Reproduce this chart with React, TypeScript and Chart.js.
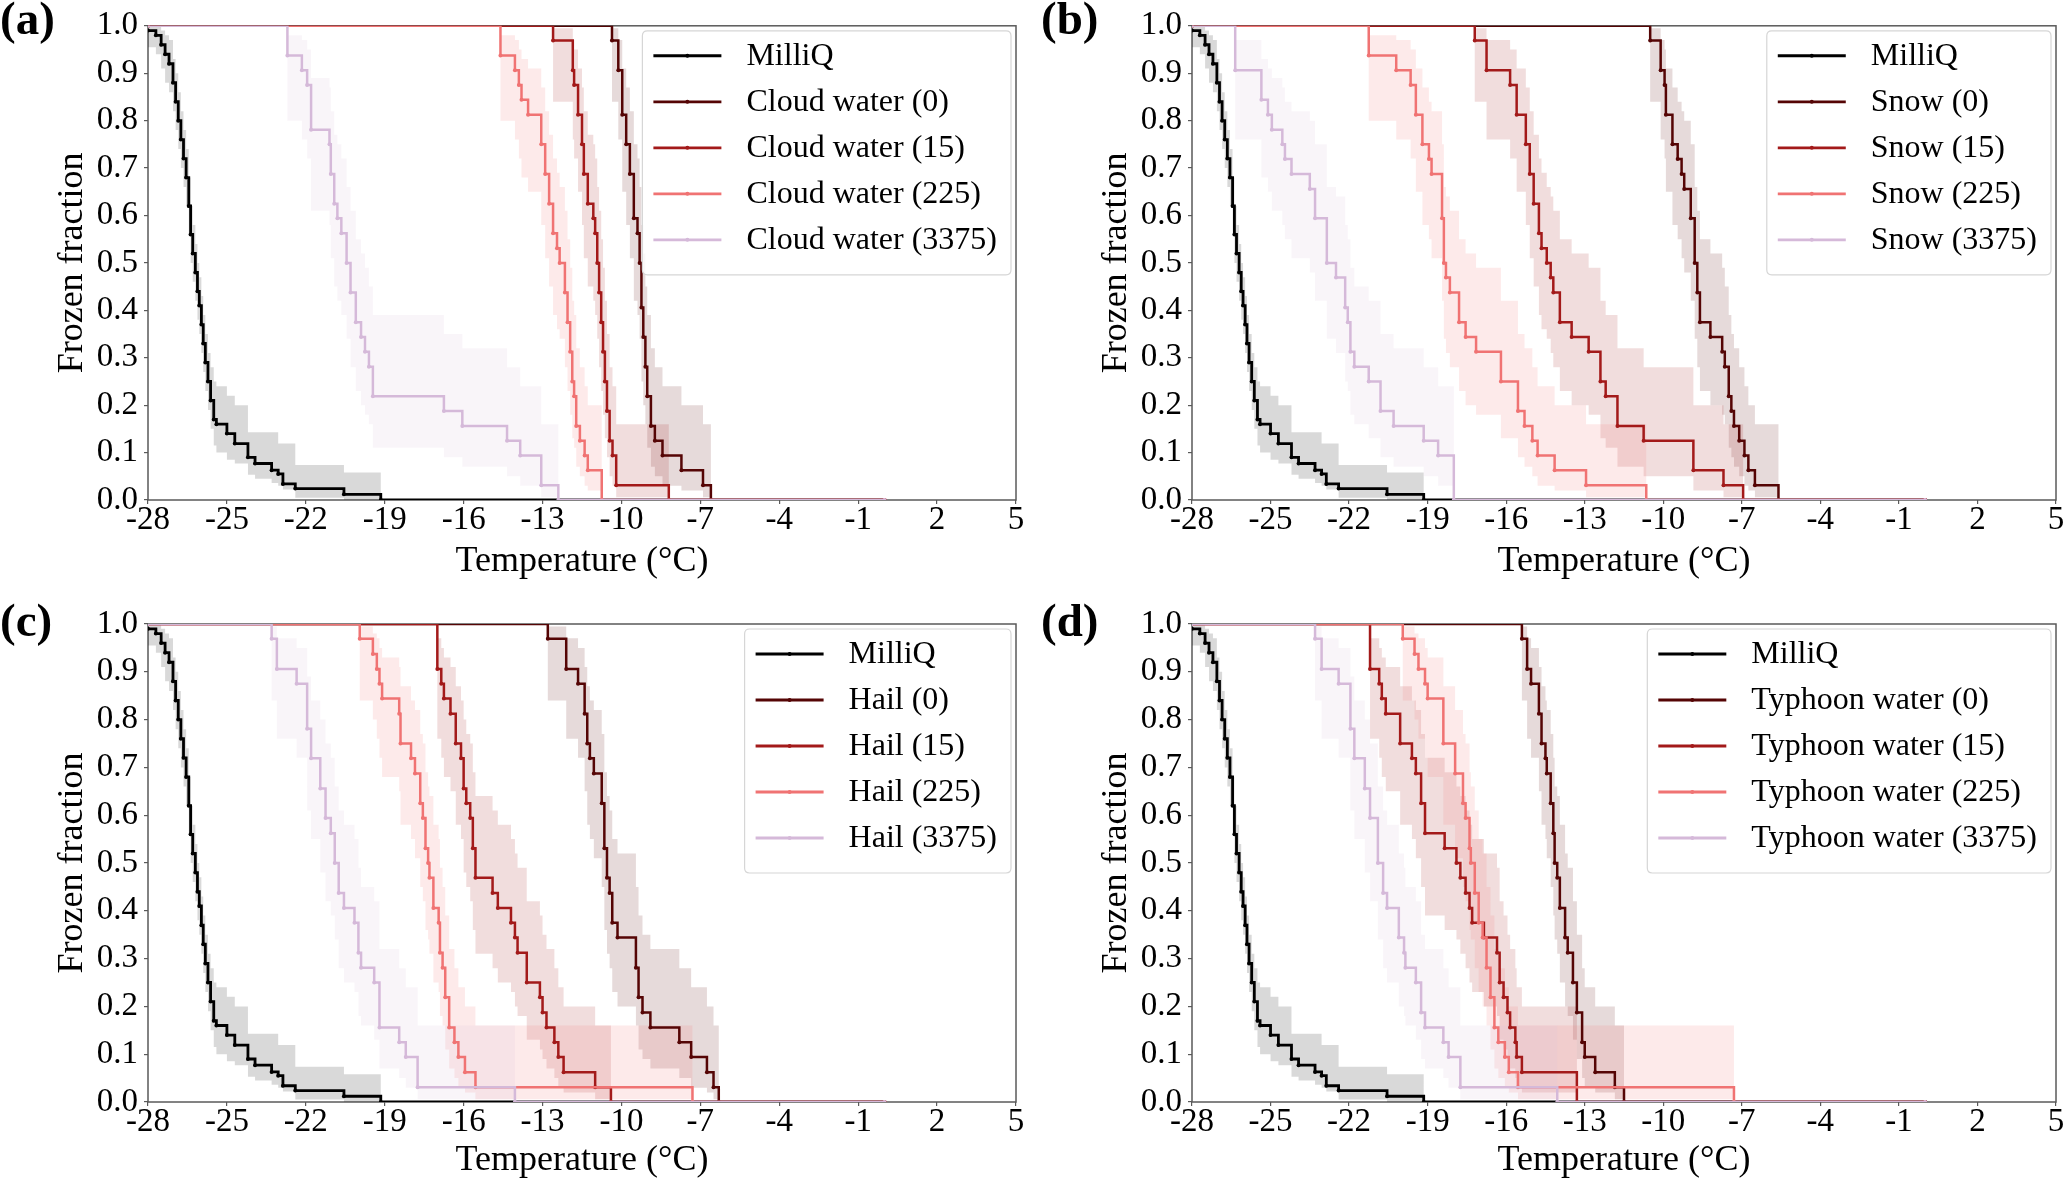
import React, { useEffect, useRef } from "react";
import { Chart, registerables } from "chart.js";

Chart.register(...registerables);

// Each row: [temperature (°C), frozen fraction, lower bound, upper bound]
type Row = [number, number, number, number];

const milliQ: Row[] = [
  [-28.0, 0.99, 0.955, 1.0],
  [-27.7, 0.98, 0.94, 1.0],
  [-27.5, 0.96, 0.91, 0.99],
  [-27.35, 0.94, 0.88, 0.98],
  [-27.2, 0.92, 0.86, 0.97],
  [-27.05, 0.88, 0.82, 0.93],
  [-26.95, 0.84, 0.78, 0.9],
  [-26.85, 0.8, 0.74, 0.86],
  [-26.75, 0.76, 0.7, 0.82],
  [-26.65, 0.72, 0.66, 0.78],
  [-26.55, 0.68, 0.62, 0.74],
  [-26.45, 0.62, 0.56, 0.68],
  [-26.38, 0.56, 0.5, 0.62],
  [-26.3, 0.52, 0.46, 0.58],
  [-26.2, 0.48, 0.42, 0.54],
  [-26.12, 0.44, 0.38, 0.5],
  [-26.05, 0.41, 0.35, 0.47],
  [-25.97, 0.37, 0.31, 0.43],
  [-25.9, 0.33, 0.27, 0.39],
  [-25.82, 0.29, 0.23, 0.35],
  [-25.72, 0.25, 0.19, 0.31],
  [-25.62, 0.21, 0.15, 0.28],
  [-25.5, 0.17, 0.115, 0.25],
  [-25.4, 0.16, 0.1, 0.24],
  [-25.0, 0.14, 0.085, 0.22],
  [-24.7, 0.119, 0.077, 0.2],
  [-24.2, 0.09, 0.053, 0.143],
  [-23.93, 0.077, 0.045, 0.143],
  [-23.3, 0.063, 0.036, 0.143],
  [-23.05, 0.055, 0.03, 0.119],
  [-22.87, 0.034, 0.022, 0.119],
  [-22.4, 0.024, 0.005, 0.074],
  [-20.55, 0.012, 0.0, 0.058],
  [-19.15, 0, 0, 0],
  [0, 0, 0, 0],
];

// ---- (a) Cloud water ----
const cloud0: Row[] = [
  [-28, 1, 1, 1],
  [-10.36, 0.969, 0.84, 0.995],
  [-10.12, 0.906, 0.76, 0.97],
  [-9.97, 0.8125, 0.65, 0.91],
  [-9.82, 0.75, 0.58, 0.87],
  [-9.68, 0.6875, 0.51, 0.82],
  [-9.53, 0.594, 0.42, 0.75],
  [-9.39, 0.5625, 0.39, 0.72],
  [-9.31, 0.5, 0.34, 0.66],
  [-9.24, 0.406, 0.25, 0.58],
  [-9.17, 0.344, 0.2, 0.52],
  [-9.09, 0.281, 0.16, 0.45],
  [-9.02, 0.219, 0.11, 0.39],
  [-8.88, 0.156, 0.07, 0.32],
  [-8.73, 0.125, 0.05, 0.28],
  [-8.44, 0.094, 0.03, 0.24],
  [-7.72, 0.0625, 0.02, 0.2],
  [-6.9, 0.031, 0.006, 0.16],
  [-6.6, 0, 0, 0],
  [0, 0, 0, 0],
];
const cloud15: Row[] = [
  [-28, 1, 1, 1],
  [-12.6, 0.969, 0.84, 0.995],
  [-11.85, 0.906, 0.76, 0.97],
  [-11.8, 0.875, 0.72, 0.95],
  [-11.65, 0.8125, 0.65, 0.91],
  [-11.5, 0.75, 0.58, 0.87],
  [-11.43, 0.6875, 0.51, 0.82],
  [-11.28, 0.625, 0.45, 0.77],
  [-11.07, 0.594, 0.42, 0.75],
  [-11.0, 0.5625, 0.39, 0.72],
  [-10.92, 0.5, 0.34, 0.66],
  [-10.85, 0.4375, 0.28, 0.61],
  [-10.77, 0.375, 0.23, 0.55],
  [-10.7, 0.3125, 0.18, 0.49],
  [-10.63, 0.25, 0.13, 0.42],
  [-10.55, 0.1875, 0.09, 0.35],
  [-10.45, 0.125, 0.05, 0.28],
  [-10.34, 0.094, 0.03, 0.24],
  [-10.2, 0.031, 0.006, 0.16],
  [-8.2, 0, 0, 0],
  [0, 0, 0, 0],
];
const cloud225: Row[] = [
  [-28, 1, 1, 1],
  [-14.6, 0.9375, 0.8, 0.98],
  [-14.05, 0.906, 0.76, 0.97],
  [-13.9, 0.875, 0.72, 0.95],
  [-13.8, 0.844, 0.68, 0.93],
  [-13.55, 0.8125, 0.65, 0.91],
  [-13.05, 0.75, 0.58, 0.87],
  [-12.9, 0.6875, 0.51, 0.82],
  [-12.75, 0.625, 0.45, 0.77],
  [-12.6, 0.5625, 0.39, 0.72],
  [-12.45, 0.531, 0.36, 0.69],
  [-12.35, 0.5, 0.34, 0.66],
  [-12.15, 0.4375, 0.28, 0.61],
  [-12.05, 0.375, 0.23, 0.55],
  [-11.95, 0.3125, 0.18, 0.49],
  [-11.87, 0.25, 0.13, 0.42],
  [-11.8, 0.219, 0.11, 0.39],
  [-11.72, 0.156, 0.07, 0.32],
  [-11.58, 0.125, 0.05, 0.28],
  [-11.4, 0.094, 0.03, 0.24],
  [-11.28, 0.0625, 0.02, 0.2],
  [-10.75, 0, 0, 0],
  [0, 0, 0, 0],
];
const cloud3375: Row[] = [
  [-28, 1, 1, 1],
  [-22.7, 0.9375, 0.8, 0.98],
  [-22.15, 0.906, 0.76, 0.97],
  [-21.95, 0.875, 0.72, 0.95],
  [-21.8, 0.781, 0.61, 0.89],
  [-21.1, 0.75, 0.58, 0.87],
  [-21.05, 0.6875, 0.51, 0.82],
  [-20.92, 0.625, 0.45, 0.77],
  [-20.8, 0.594, 0.42, 0.75],
  [-20.65, 0.5625, 0.39, 0.72],
  [-20.45, 0.5, 0.34, 0.66],
  [-20.3, 0.4375, 0.28, 0.61],
  [-20.1, 0.375, 0.23, 0.55],
  [-19.9, 0.344, 0.2, 0.52],
  [-19.75, 0.3125, 0.18, 0.49],
  [-19.6, 0.281, 0.16, 0.45],
  [-19.45, 0.219, 0.11, 0.39],
  [-16.75, 0.1875, 0.09, 0.35],
  [-16.05, 0.156, 0.07, 0.32],
  [-14.35, 0.125, 0.05, 0.28],
  [-13.85, 0.094, 0.03, 0.24],
  [-13.05, 0.031, 0.006, 0.16],
  [-12.4, 0, 0, 0],
  [0, 0, 0, 0],
];

// ---- (b) Snow ----
const snow0: Row[] = [
  [-28, 1, 1, 1],
  [-10.5, 0.969, 0.84, 0.995],
  [-10.1, 0.906, 0.76, 0.97],
  [-9.95, 0.875, 0.72, 0.95],
  [-9.9, 0.8125, 0.65, 0.91],
  [-9.65, 0.75, 0.58, 0.87],
  [-9.45, 0.719, 0.55, 0.84],
  [-9.3, 0.6875, 0.51, 0.82],
  [-9.2, 0.656, 0.48, 0.8],
  [-8.95, 0.594, 0.42, 0.75],
  [-8.8, 0.5, 0.34, 0.66],
  [-8.7, 0.4375, 0.28, 0.61],
  [-8.6, 0.375, 0.23, 0.55],
  [-8.2, 0.344, 0.2, 0.52],
  [-7.75, 0.3125, 0.18, 0.49],
  [-7.65, 0.281, 0.16, 0.45],
  [-7.5, 0.219, 0.11, 0.39],
  [-7.4, 0.1875, 0.09, 0.35],
  [-7.3, 0.156, 0.07, 0.32],
  [-7.1, 0.125, 0.05, 0.28],
  [-6.9, 0.094, 0.03, 0.24],
  [-6.75, 0.0625, 0.02, 0.2],
  [-6.5, 0.031, 0.006, 0.16],
  [-5.6, 0, 0, 0],
  [0, 0, 0, 0],
];
const snow15: Row[] = [
  [-28, 1, 1, 1],
  [-17.2, 0.969, 0.84, 0.995],
  [-16.75, 0.906, 0.76, 0.97],
  [-15.85, 0.875, 0.72, 0.95],
  [-15.6, 0.8125, 0.65, 0.91],
  [-15.25, 0.75, 0.58, 0.87],
  [-15.1, 0.6875, 0.51, 0.82],
  [-14.95, 0.625, 0.45, 0.77],
  [-14.75, 0.5625, 0.39, 0.72],
  [-14.65, 0.531, 0.36, 0.69],
  [-14.45, 0.5, 0.34, 0.66],
  [-14.3, 0.469, 0.31, 0.64],
  [-14.2, 0.4375, 0.28, 0.61],
  [-13.95, 0.375, 0.23, 0.55],
  [-13.5, 0.344, 0.2, 0.52],
  [-12.85, 0.3125, 0.18, 0.49],
  [-12.4, 0.25, 0.13, 0.42],
  [-12.2, 0.219, 0.11, 0.39],
  [-11.75, 0.156, 0.07, 0.32],
  [-10.75, 0.125, 0.05, 0.28],
  [-8.85, 0.0625, 0.02, 0.2],
  [-7.7, 0.031, 0.006, 0.16],
  [-6.95, 0, 0, 0],
  [0, 0, 0, 0],
];
const snow225: Row[] = [
  [-28, 1, 1, 1],
  [-21.25, 0.9375, 0.8, 0.98],
  [-20.2, 0.906, 0.76, 0.97],
  [-19.65, 0.875, 0.72, 0.95],
  [-19.45, 0.8125, 0.65, 0.91],
  [-19.2, 0.75, 0.58, 0.87],
  [-18.95, 0.719, 0.55, 0.84],
  [-18.85, 0.6875, 0.51, 0.82],
  [-18.45, 0.594, 0.42, 0.75],
  [-18.38, 0.5, 0.34, 0.66],
  [-18.3, 0.469, 0.31, 0.64],
  [-18.15, 0.4375, 0.28, 0.61],
  [-17.8, 0.375, 0.23, 0.55],
  [-17.55, 0.344, 0.2, 0.52],
  [-17.15, 0.3125, 0.18, 0.49],
  [-16.2, 0.25, 0.13, 0.42],
  [-15.55, 0.1875, 0.09, 0.35],
  [-15.3, 0.156, 0.07, 0.32],
  [-15.0, 0.125, 0.05, 0.28],
  [-14.8, 0.094, 0.03, 0.24],
  [-14.15, 0.0625, 0.02, 0.2],
  [-12.95, 0.031, 0.006, 0.16],
  [-10.65, 0, 0, 0],
  [0, 0, 0, 0],
];
const snow3375: Row[] = [
  [-28, 1, 1, 1],
  [-26.35, 0.906, 0.76, 0.97],
  [-25.35, 0.844, 0.68, 0.93],
  [-25.1, 0.8125, 0.65, 0.91],
  [-24.95, 0.781, 0.61, 0.89],
  [-24.55, 0.75, 0.58, 0.87],
  [-24.45, 0.719, 0.55, 0.84],
  [-24.2, 0.6875, 0.51, 0.82],
  [-23.5, 0.656, 0.48, 0.8],
  [-23.3, 0.594, 0.42, 0.75],
  [-22.85, 0.5, 0.34, 0.66],
  [-22.5, 0.469, 0.31, 0.64],
  [-22.15, 0.406, 0.25, 0.58],
  [-22.05, 0.375, 0.23, 0.55],
  [-21.95, 0.3125, 0.18, 0.49],
  [-21.8, 0.281, 0.16, 0.45],
  [-21.25, 0.25, 0.13, 0.42],
  [-20.8, 0.1875, 0.09, 0.35],
  [-20.3, 0.156, 0.07, 0.32],
  [-19.15, 0.125, 0.05, 0.28],
  [-18.6, 0.094, 0.03, 0.24],
  [-18.0, 0, 0, 0],
  [0, 0, 0, 0],
];

// ---- (c) Hail ----
const hail0: Row[] = [
  [-28, 1, 1, 1],
  [-12.8, 0.969, 0.84, 0.995],
  [-12.1, 0.906, 0.76, 0.97],
  [-11.65, 0.875, 0.72, 0.95],
  [-11.4, 0.8125, 0.65, 0.91],
  [-11.3, 0.75, 0.58, 0.87],
  [-11.2, 0.719, 0.55, 0.84],
  [-11.05, 0.6875, 0.51, 0.82],
  [-10.75, 0.625, 0.45, 0.77],
  [-10.65, 0.531, 0.36, 0.69],
  [-10.55, 0.469, 0.31, 0.64],
  [-10.45, 0.4375, 0.28, 0.61],
  [-10.35, 0.375, 0.23, 0.55],
  [-10.15, 0.344, 0.2, 0.52],
  [-9.45, 0.281, 0.16, 0.45],
  [-9.35, 0.219, 0.11, 0.39],
  [-9.2, 0.1875, 0.09, 0.35],
  [-8.9, 0.156, 0.07, 0.32],
  [-7.8, 0.125, 0.05, 0.28],
  [-7.35, 0.094, 0.03, 0.24],
  [-6.75, 0.0625, 0.02, 0.2],
  [-6.5, 0.031, 0.006, 0.16],
  [-6.3, 0, 0, 0],
  [0, 0, 0, 0],
];
const hail15: Row[] = [
  [-28, 1, 1, 1],
  [-17.0, 0.906, 0.76, 0.97],
  [-16.85, 0.875, 0.72, 0.95],
  [-16.75, 0.844, 0.68, 0.93],
  [-16.5, 0.8125, 0.65, 0.91],
  [-16.3, 0.75, 0.58, 0.87],
  [-16.1, 0.719, 0.55, 0.84],
  [-16.0, 0.656, 0.48, 0.8],
  [-15.9, 0.625, 0.45, 0.77],
  [-15.75, 0.594, 0.42, 0.75],
  [-15.65, 0.531, 0.36, 0.69],
  [-15.55, 0.469, 0.31, 0.64],
  [-14.9, 0.4375, 0.28, 0.61],
  [-14.7, 0.406, 0.25, 0.58],
  [-14.2, 0.375, 0.23, 0.55],
  [-14.05, 0.344, 0.2, 0.52],
  [-13.95, 0.3125, 0.18, 0.49],
  [-13.6, 0.25, 0.13, 0.42],
  [-13.1, 0.219, 0.11, 0.39],
  [-13.0, 0.1875, 0.09, 0.35],
  [-12.85, 0.156, 0.07, 0.32],
  [-12.55, 0.125, 0.05, 0.28],
  [-12.4, 0.094, 0.03, 0.24],
  [-12.2, 0.0625, 0.02, 0.2],
  [-11.0, 0.031, 0.006, 0.16],
  [-10.4, 0, 0, 0],
  [0, 0, 0, 0],
];
const hail225: Row[] = [
  [-28, 1, 1, 1],
  [-19.95, 0.969, 0.84, 0.995],
  [-19.45, 0.9375, 0.8, 0.98],
  [-19.3, 0.906, 0.76, 0.97],
  [-19.2, 0.875, 0.72, 0.95],
  [-19.1, 0.844, 0.68, 0.93],
  [-18.45, 0.8125, 0.65, 0.91],
  [-18.4, 0.75, 0.58, 0.87],
  [-18.0, 0.719, 0.55, 0.84],
  [-17.85, 0.6875, 0.51, 0.82],
  [-17.65, 0.625, 0.45, 0.77],
  [-17.55, 0.594, 0.42, 0.75],
  [-17.45, 0.531, 0.36, 0.69],
  [-17.35, 0.5, 0.34, 0.66],
  [-17.3, 0.469, 0.31, 0.64],
  [-17.15, 0.406, 0.25, 0.58],
  [-16.95, 0.375, 0.23, 0.55],
  [-16.9, 0.3125, 0.18, 0.49],
  [-16.8, 0.281, 0.16, 0.45],
  [-16.7, 0.219, 0.11, 0.39],
  [-16.55, 0.156, 0.07, 0.32],
  [-16.35, 0.125, 0.05, 0.28],
  [-16.2, 0.094, 0.03, 0.24],
  [-15.95, 0.0625, 0.02, 0.2],
  [-15.55, 0.031, 0.006, 0.16],
  [-7.3, 0, 0, 0],
  [0, 0, 0, 0],
];
const hail3375: Row[] = [
  [-28, 1, 1, 1],
  [-23.3, 0.969, 0.84, 0.995],
  [-23.1, 0.906, 0.76, 0.97],
  [-22.35, 0.875, 0.72, 0.95],
  [-21.95, 0.781, 0.61, 0.89],
  [-21.8, 0.719, 0.55, 0.84],
  [-21.45, 0.656, 0.48, 0.8],
  [-21.25, 0.594, 0.42, 0.75],
  [-21.05, 0.5625, 0.39, 0.72],
  [-20.9, 0.5, 0.34, 0.66],
  [-20.75, 0.4375, 0.28, 0.61],
  [-20.55, 0.406, 0.25, 0.58],
  [-20.15, 0.375, 0.23, 0.55],
  [-20.0, 0.3125, 0.18, 0.49],
  [-19.9, 0.281, 0.16, 0.45],
  [-19.4, 0.25, 0.13, 0.42],
  [-19.2, 0.156, 0.07, 0.32],
  [-18.45, 0.125, 0.05, 0.28],
  [-18.2, 0.094, 0.03, 0.24],
  [-17.75, 0.031, 0.006, 0.16],
  [-14.05, 0, 0, 0],
  [0, 0, 0, 0],
];

// ---- (d) Typhoon water ----
const typhoon0: Row[] = [
  [-28, 1, 1, 1],
  [-15.4, 0.969, 0.84, 0.995],
  [-15.2, 0.906, 0.76, 0.97],
  [-15.05, 0.875, 0.72, 0.95],
  [-14.75, 0.8125, 0.65, 0.91],
  [-14.65, 0.75, 0.58, 0.87],
  [-14.5, 0.719, 0.55, 0.84],
  [-14.45, 0.6875, 0.51, 0.82],
  [-14.3, 0.625, 0.45, 0.77],
  [-14.2, 0.5625, 0.39, 0.72],
  [-14.15, 0.5, 0.34, 0.66],
  [-14.05, 0.469, 0.31, 0.64],
  [-13.95, 0.406, 0.25, 0.58],
  [-13.75, 0.344, 0.2, 0.52],
  [-13.65, 0.3125, 0.18, 0.49],
  [-13.45, 0.25, 0.13, 0.42],
  [-13.3, 0.1875, 0.09, 0.35],
  [-13.1, 0.125, 0.05, 0.28],
  [-13.0, 0.094, 0.03, 0.24],
  [-12.6, 0.0625, 0.02, 0.2],
  [-11.85, 0.031, 0.006, 0.16],
  [-11.5, 0, 0, 0],
  [0, 0, 0, 0],
];
const typhoon15: Row[] = [
  [-28, 1, 1, 1],
  [-21.2, 0.906, 0.76, 0.97],
  [-20.85, 0.875, 0.72, 0.95],
  [-20.75, 0.844, 0.68, 0.93],
  [-20.6, 0.8125, 0.65, 0.91],
  [-20.05, 0.75, 0.58, 0.87],
  [-19.6, 0.719, 0.55, 0.84],
  [-19.45, 0.6875, 0.51, 0.82],
  [-19.25, 0.625, 0.45, 0.77],
  [-19.1, 0.5625, 0.39, 0.72],
  [-18.35, 0.531, 0.36, 0.69],
  [-17.9, 0.5, 0.34, 0.66],
  [-17.75, 0.469, 0.31, 0.64],
  [-17.55, 0.4375, 0.28, 0.61],
  [-17.4, 0.406, 0.25, 0.58],
  [-17.3, 0.375, 0.23, 0.55],
  [-16.85, 0.344, 0.2, 0.52],
  [-16.35, 0.3125, 0.18, 0.49],
  [-16.25, 0.25, 0.13, 0.42],
  [-16.1, 0.219, 0.11, 0.39],
  [-15.95, 0.1875, 0.09, 0.35],
  [-15.85, 0.156, 0.07, 0.32],
  [-15.65, 0.125, 0.05, 0.28],
  [-15.6, 0.094, 0.03, 0.24],
  [-15.4, 0.0625, 0.02, 0.2],
  [-13.3, 0, 0, 0],
  [0, 0, 0, 0],
];
const typhoon225: Row[] = [
  [-28, 1, 1, 1],
  [-19.95, 0.969, 0.84, 0.995],
  [-19.5, 0.9375, 0.8, 0.98],
  [-19.35, 0.906, 0.76, 0.97],
  [-19.1, 0.875, 0.72, 0.95],
  [-19.0, 0.844, 0.68, 0.93],
  [-18.4, 0.75, 0.58, 0.87],
  [-17.95, 0.6875, 0.51, 0.82],
  [-17.65, 0.625, 0.45, 0.77],
  [-17.55, 0.594, 0.42, 0.75],
  [-17.4, 0.531, 0.36, 0.69],
  [-17.35, 0.5, 0.34, 0.66],
  [-17.2, 0.4375, 0.28, 0.61],
  [-17.05, 0.375, 0.23, 0.55],
  [-16.9, 0.344, 0.2, 0.52],
  [-16.75, 0.281, 0.16, 0.45],
  [-16.6, 0.219, 0.11, 0.39],
  [-16.45, 0.156, 0.07, 0.32],
  [-16.3, 0.125, 0.05, 0.28],
  [-16.05, 0.094, 0.03, 0.24],
  [-15.9, 0.0625, 0.02, 0.2],
  [-15.55, 0.031, 0.006, 0.16],
  [-7.3, 0, 0, 0],
  [0, 0, 0, 0],
];
const typhoon3375: Row[] = [
  [-28, 1, 1, 1],
  [-23.3, 0.969, 0.84, 0.995],
  [-23.05, 0.906, 0.76, 0.97],
  [-22.4, 0.875, 0.72, 0.95],
  [-21.95, 0.781, 0.61, 0.89],
  [-21.8, 0.719, 0.55, 0.84],
  [-21.4, 0.656, 0.48, 0.8],
  [-21.2, 0.594, 0.42, 0.75],
  [-20.9, 0.5, 0.34, 0.66],
  [-20.7, 0.4375, 0.28, 0.61],
  [-20.55, 0.406, 0.25, 0.58],
  [-20.1, 0.344, 0.2, 0.52],
  [-19.9, 0.3125, 0.18, 0.49],
  [-19.85, 0.281, 0.16, 0.45],
  [-19.45, 0.25, 0.13, 0.42],
  [-19.25, 0.1875, 0.09, 0.35],
  [-19.1, 0.156, 0.07, 0.32],
  [-18.4, 0.125, 0.05, 0.28],
  [-18.2, 0.094, 0.03, 0.24],
  [-17.75, 0.031, 0.006, 0.16],
  [-14.05, 0, 0, 0],
  [0, 0, 0, 0],
];

const xTicks = [-28, -25, -22, -19, -16, -13, -10, -7, -4, -1, 2, 5];
const yTicks = [0, 0.1, 0.2, 0.3, 0.4, 0.5, 0.6, 0.7, 0.8, 0.9, 1.0];
const sampleNames = ["Cloud water", "Snow", "Hail", "Typhoon water"];
const concentrations = ["0", "15", "225", "3375"];
const panelLetters = ["(a)", "(b)", "(c)", "(d)"];
const seriesColors = ["#000000", "#550505", "#a31a1a", "#f07373", "#d5b9d9"];
const bandColors = [
  "rgba(0,0,0,0.15)",
  "rgba(85,5,5,0.15)",
  "rgba(163,26,26,0.15)",
  "rgba(240,115,115,0.15)",
  "rgba(213,185,217,0.15)",
];
const lineWidths = [2.8, 2.5, 2.5, 2.5, 2.5];
const panelSeries: Row[][][] = [
  [milliQ, cloud0, cloud15, cloud225, cloud3375],
  [milliQ, snow0, snow15, snow225, snow3375],
  [milliQ, hail0, hail15, hail225, hail3375],
  [milliQ, typhoon0, typhoon15, typhoon225, typhoon3375],
];

const FONT = '"Liberation Serif", "Times New Roman", Times, serif';

type Layout = {
  left: number;
  top: number;
  w: number;
  h: number;
  area: { l: number; t: number; r: number; b: number };
  letterX: number;
  letterY: number;
};

const layouts: Layout[] = [
  { left: 0, top: 0, w: 1034, h: 591, area: { l: 148, t: 22, r: 1016, b: 500 }, letterX: 0, letterY: -5 },
  { left: 1034, top: 0, w: 1033, h: 591, area: { l: 158, t: 22, r: 1022, b: 500 }, letterX: 1041, letterY: -5 },
  { left: 0, top: 591, w: 1034, h: 591, area: { l: 148, t: 33, r: 1016, b: 511 }, letterX: 0, letterY: 597 },
  { left: 1034, top: 591, w: 1033, h: 591, area: { l: 158, t: 33, r: 1022, b: 511 }, letterX: 1041, letterY: 597 },
];

const framePlugin = {
  id: "frame",
  beforeDatasetsDraw(chart: any) {
    const { ctx, chartArea } = chart;
    ctx.save();
    ctx.strokeStyle = "#5a5a5a";
    ctx.lineWidth = 1.5;
    ctx.strokeRect(chartArea.left, chartArea.top, chartArea.right - chartArea.left, chartArea.bottom - chartArea.top);
    ctx.restore();
  },
};

const legendPlugin = {
  id: "mplLegend",
  afterDatasetsDraw(chart: any, _args: any, opts: any) {
    const items: { label: string; color: string; lw: number }[] = opts.items || [];
    if (!items.length) return;
    const { ctx, chartArea } = chart;
    ctx.save();
    ctx.font = `32px ${FONT}`;
    const textW = Math.max(...items.map((i) => ctx.measureText(i.label).width));
    const padL = 11, lineLen = 68, gap = 25, padR = 14, rowH = 46, padT = 2, padB = 12;
    const w = padL + lineLen + gap + textW + padR;
    const h = padT + rowH * items.length + padB;
    const x = chartArea.right - 5 - w;
    const y = chartArea.top + 5;
    const r = 5;
    ctx.beginPath();
    ctx.moveTo(x + r, y);
    ctx.lineTo(x + w - r, y);
    ctx.quadraticCurveTo(x + w, y, x + w, y + r);
    ctx.lineTo(x + w, y + h - r);
    ctx.quadraticCurveTo(x + w, y + h, x + w - r, y + h);
    ctx.lineTo(x + r, y + h);
    ctx.quadraticCurveTo(x, y + h, x, y + h - r);
    ctx.lineTo(x, y + r);
    ctx.quadraticCurveTo(x, y, x + r, y);
    ctx.closePath();
    ctx.fillStyle = "rgba(255,255,255,0.8)";
    ctx.fill();
    ctx.strokeStyle = "#d6d6d6";
    ctx.lineWidth = 1.2;
    ctx.stroke();
    items.forEach((it, i) => {
      const cy = y + padT + rowH * (i + 0.5);
      ctx.strokeStyle = it.color;
      ctx.lineWidth = it.lw + 0.3;
      ctx.beginPath();
      ctx.moveTo(x + padL, cy);
      ctx.lineTo(x + padL + lineLen, cy);
      ctx.stroke();
      ctx.fillStyle = it.color;
      ctx.beginPath();
      ctx.arc(x + padL + lineLen / 2, cy, 2, 0, Math.PI * 2);
      ctx.fill();
      ctx.fillStyle = "#000";
      ctx.textBaseline = "middle";
      ctx.textAlign = "left";
      ctx.fillText(it.label, x + padL + lineLen + gap, cy + 1);
    });
    ctx.restore();
  },
};

function Panel({ index }: { index: number }) {
  const ref = useRef<HTMLCanvasElement | null>(null);
  const L = layouts[index];
  useEffect(() => {
    if (!ref.current) return;
    const series = panelSeries[index];
    const labels = ["MilliQ", ...concentrations.map((c) => `${sampleNames[index]} (${c})`)];
    const datasets: any[] = [];
    series.forEach((rows, s) => {
      datasets.push({
        label: labels[s] + " upper",
        data: rows.map((r) => ({ x: r[0], y: r[3] })),
        stepped: "before",
        borderWidth: 0,
        borderColor: "transparent",
        pointRadius: 0,
        backgroundColor: bandColors[s],
        fill: "+1",
        order: 200 - s,
      });
      datasets.push({
        label: labels[s] + " lower",
        data: rows.map((r) => ({ x: r[0], y: r[2] })),
        stepped: "before",
        borderWidth: 0,
        borderColor: "transparent",
        pointRadius: 0,
        backgroundColor: "transparent",
        fill: false,
        order: 200 - s,
      });
      datasets.push({
        label: labels[s],
        data: rows.map((r) => ({ x: r[0], y: r[1] })),
        stepped: "before",
        borderWidth: lineWidths[s],
        borderColor: seriesColors[s],
        pointRadius: 2,
        pointBorderWidth: 0,
        pointBackgroundColor: seriesColors[s],
        fill: false,
        order: 50 - s,
      });
    });
    const tickFont = { family: FONT, size: 33 };
    const titleFont = { family: FONT, size: 36 };
    const chart = new Chart(ref.current, {
      type: "line",
      data: { datasets },
      plugins: [framePlugin, legendPlugin],
      options: {
        animation: false,
        responsive: false,
        events: [],
        layout: { padding: { left: 0, top: L.area.t, right: L.w - L.area.r, bottom: 0 } },
        plugins: {
          legend: { display: false },
          tooltip: { enabled: false },
          mplLegend: { items: labels.map((lb, i) => ({ label: lb, color: seriesColors[i], lw: lineWidths[i] })) },
        } as any,
        scales: {
          x: {
            type: "linear",
            min: -28,
            max: 5,
            afterBuildTicks: (scale: any) => {
              scale.ticks = xTicks.map((v) => ({ value: v }));
            },
            afterFit: (scale: any) => {
              scale.height = L.h - L.area.b;
            },
            ticks: {
              font: tickFont,
              color: "#000",
              padding: -3,
              maxRotation: 0,
              minRotation: 0,
              autoSkip: false,
              callback: (v: any) => String(v),
            },
            grid: { display: true, drawOnChartArea: false, drawTicks: true, tickLength: 4, color: "#5a5a5a", lineWidth: 1.2 },
            border: { display: false },
            title: {
              display: true,
              text: "Temperature (°C)",
              font: titleFont,
              color: "#000",
              padding: { top: 0, bottom: index < 2 ? 8 : 0 },
            },
          },
          y: {
            type: "linear",
            min: 0,
            max: 1,
            afterBuildTicks: (scale: any) => {
              scale.ticks = yTicks.map((v) => ({ value: v }));
            },
            afterFit: (scale: any) => {
              scale.width = L.area.l;
            },
            ticks: {
              font: tickFont,
              color: "#000",
              padding: 6,
              autoSkip: false,
              callback: (v: any) => Number(v).toFixed(1),
            },
            grid: { display: true, drawOnChartArea: false, drawTicks: true, tickLength: 4, color: "#5a5a5a", lineWidth: 1.2 },
            border: { display: false },
            title: {
              display: true,
              text: "Frozen fraction",
              font: titleFont,
              color: "#000",
              padding: { top: 51 + (L.area.l - 148), bottom: 0 },
            },
          },
        },
      } as any,
    });
    return () => chart.destroy();
  }, [index]);
  return (
    <canvas
      ref={ref}
      width={L.w}
      height={L.h}
      style={{ position: "absolute", left: L.left, top: L.top, width: L.w, height: L.h }}
    />
  );
}

export default function App() {
  return (
    <div
      style={{
        position: "absolute",
        left: 0,
        top: 0,
        width: 2067,
        height: 1182,
        background: "#fff",
        overflow: "hidden",
      }}
    >
      {layouts.map((_, i) => (
        <Panel key={i} index={i} />
      ))}
      {layouts.map((L, i) => (
        <div
          key={"lt" + i}
          style={{
            position: "absolute",
            left: L.letterX,
            top: L.letterY,
            fontFamily: FONT,
            fontWeight: "bold",
            fontSize: 47,
            lineHeight: 1,
            color: "#000",
          }}
        >
          {panelLetters[i]}
        </div>
      ))}
    </div>
  );
}
